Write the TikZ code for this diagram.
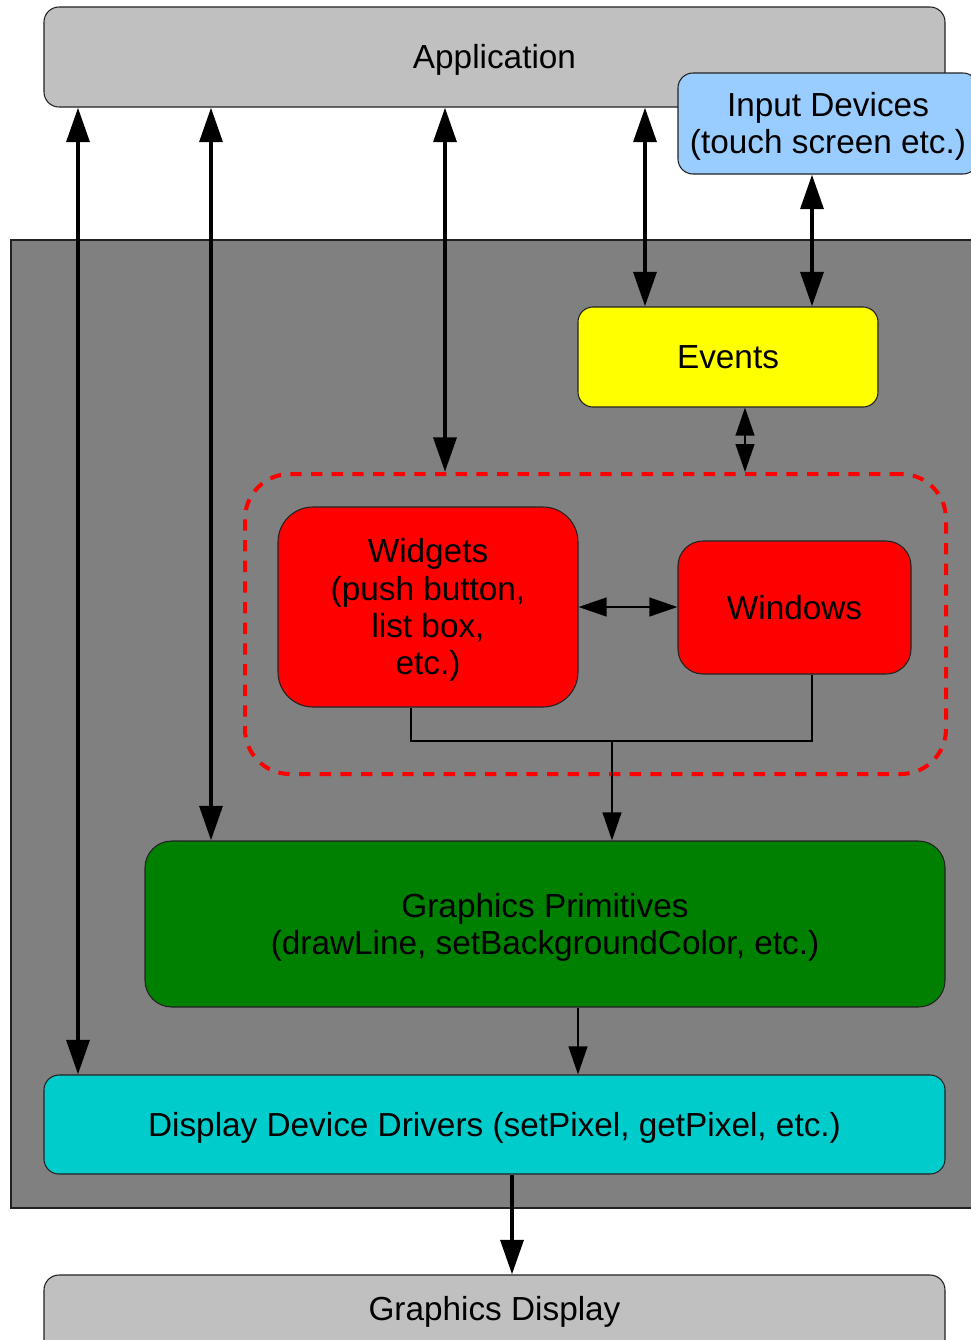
\documentclass[tikz,border=0pt]{standalone}
\usepackage{fontspec}
\setmainfont{Liberation Sans}
\usetikzlibrary{arrows.meta}

\definecolor{boxgray}{HTML}{C0C0C0}
\definecolor{panelgray}{HTML}{808080}
\definecolor{inputblue}{HTML}{99CCFF}
\definecolor{eventyellow}{HTML}{FFFF00}
\definecolor{widgetred}{HTML}{FF0000}
\definecolor{primgreen}{HTML}{008000}
\definecolor{drivercyan}{HTML}{00CCCC}
\definecolor{edge}{HTML}{222222}

% fixed ascent for the first line and descent for the last line of a label
\newcommand\capup{\rule{0pt}{23pt}}
\newcommand\capdown{\rule[-5.5pt]{0pt}{0pt}}

\tikzset{
  label text/.style={align=center, font=\fontsize{25pt}{28pt}\selectfont},
  block/.style={draw=edge, line width=0.8pt, rectangle, inner sep=0pt, label text},
  thickarrow/.style={line width=3.4pt,
    {Triangle[length=26pt,width=17pt]}-{Triangle[length=26pt,width=17pt]}},
  thickone/.style={line width=3.4pt, -{Triangle[length=26pt,width=17pt]}},
  thinarrow/.style={line width=1.6pt,
    {Triangle[length=21pt,width=14pt]}-{Triangle[length=21pt,width=14pt]}},
  thinone/.style={line width=1.6pt, -{Triangle[length=21pt,width=14pt]}},
  thinline/.style={line width=1.6pt},
}

\begin{document}
\begin{tikzpicture}[x=0.75pt, y=-0.75pt]
\useasboundingbox (0,0) rectangle (971,1340);
\clip (0,0) rectangle (971,1340);
\fill[white] (0,0) rectangle (971,1340);

% library area
\draw[draw=edge, line width=0.8pt, fill=panelgray] (11,240) rectangle (1000,1208);

% blocks
\node[block, fill=boxgray, rounded corners=11.25pt, minimum width=675.75pt, minimum height=75pt]
  (app) at (494.5,57) {\capup Application\capdown};
\node[block, fill=inputblue, rounded corners=11.25pt, minimum width=225pt, minimum height=75.75pt]
  (inp) at (828,123.5) {\capup Input Devices\\(touch screen etc.)\capdown};
\node[block, fill=eventyellow, rounded corners=11.25pt, minimum width=225pt, minimum height=75pt]
  (evt) at (728,357) {\capup Events\capdown};
\node[draw=widgetred, dash pattern=on 8.5pt off 7pt, line width=3pt, rectangle,
  rounded corners=33.75pt, minimum width=525.75pt, minimum height=225pt, inner sep=0pt]
  (grp) at (595.5,624) {};
\node[block, fill=widgetred, rounded corners=26.25pt, minimum width=225pt, minimum height=150pt]
  (wid) at (428,607) {\capup Widgets\\(push button,\\list box,\\etc.)\capdown};
\node[block, fill=widgetred, rounded corners=18.75pt, minimum width=174.75pt, minimum height=99.75pt]
  (win) at (794.5,607.5) {\capup Windows\capdown};
\node[block, fill=primgreen, rounded corners=20pt, minimum width=600pt, minimum height=124.5pt]
  (gp) at (545,924) {\capup Graphics Primitives\\(drawLine, setBackgroundColor, etc.)\capdown};
\node[block, fill=drivercyan, rounded corners=11.25pt, minimum width=675.75pt, minimum height=74.25pt]
  (ddd) at (494.5,1124.5) {\capup Display Device Drivers (setPixel, getPixel, etc.)\capdown};
\node[draw=edge, line width=0.8pt, rectangle, inner sep=0pt, fill=boxgray, rounded corners=11.25pt,
  minimum width=675.75pt, minimum height=75pt] (gd) at (494.5,1325) {};
\node[label text, inner sep=0pt] (gdtext) at (494.5,1309) {\capup Graphics Display\capdown};

% connector columns
\coordinate (c1) at (78,0);
\coordinate (c2) at (211,0);
\coordinate (c3) at (445,0);
\coordinate (c4) at (645,0);
\coordinate (c5) at (812,0);
\coordinate (c6) at (745,0);
\coordinate (c7) at (578,0);
\coordinate (c8) at (512,0);
\coordinate (wl) at (411,741);
\coordinate (wr) at (812,741);
\coordinate (jn) at (612,741);

% connectors
\draw[thickarrow] (app.south -| c1) -- (ddd.north -| c1);
\draw[thickarrow] (app.south -| c2) -- (gp.north -| c2);
\draw[thickarrow] (app.south -| c3) -- (grp.north -| c3);
\draw[thickarrow] (app.south -| c4) -- (evt.north -| c4);
\draw[thickarrow] (inp.south -| c5) -- (evt.north -| c5);
\draw[thinarrow] (evt.south -| c6) -- (grp.north -| c6);
\draw[thinarrow] (wid.east) -- (wid.east -| win.west);
\draw[thinline] (wid.south -| wl) -- (wl) -- (wr) -- (win.south -| wr);
\draw[thinone] (jn) -- (gp.north -| jn);
\draw[thinone] (gp.south -| c7) -- (ddd.north -| c7);
\draw[thickone] (ddd.south -| c8) -- (gd.north -| c8);
\end{tikzpicture}
\end{document}
